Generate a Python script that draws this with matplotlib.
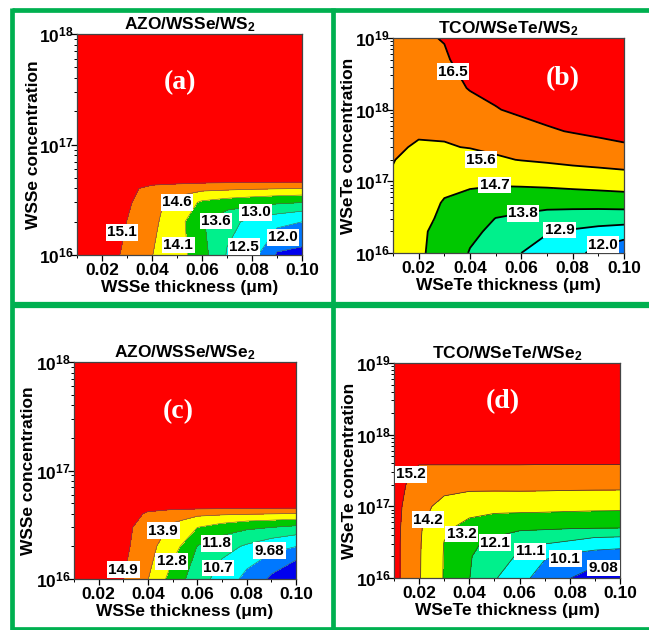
import matplotlib

matplotlib.use("Agg")
import matplotlib.pyplot as plt
import numpy as np
from matplotlib.lines import Line2D
from matplotlib.ticker import (FixedFormatter, FixedLocator, FormatStrFormatter,
                               LogLocator, MultipleLocator, NullFormatter)

plt.rcParams["font.family"] = ["Liberation Sans", "DejaVu Sans"]
plt.rcParams["font.weight"] = "bold"
plt.rcParams["axes.labelweight"] = "bold"
plt.rcParams["axes.titleweight"] = "bold"
plt.rcParams["mathtext.fontset"] = "custom"
plt.rcParams["mathtext.rm"] = "Liberation Sans:bold"
plt.rcParams["mathtext.bf"] = "Liberation Sans:bold"
plt.rcParams["mathtext.it"] = "Liberation Sans:bold"

# ---- data (PCE %, rows = doping concentration, columns = thickness) ----
thickness = [0.01, 0.02, 0.03, 0.04, 0.05, 0.06, 0.07, 0.08, 0.09, 0.10]

conc_wsse = [1e16, 2e16, 3e16, 4e16, 5e16, 1e17, 1e18]
conc_wsete = [1e16, 2e16, 3e16, 5e16, 1e17, 2e17, 3e17, 5e17, 1e18, 2e18, 5e18, 1e19]

pce_a = [
    [15.9, 15.5, 14.95, 14.6, 14.3, 13.75, 13.0, 12.7, 11.95, 11.88],
    [16.0, 15.8, 15.1, 14.7, 14.3, 13.6, 13.2, 12.9, 12.7, 12.52],
    [16.0, 15.9, 15.2, 14.75, 14.4, 14.0, 13.85, 13.75, 13.65, 13.57],
    [16.0, 16.0, 15.25, 14.95, 14.85, 14.75, 14.7, 14.65, 14.62, 14.6],
    [16.0, 16.0, 15.9, 15.5, 15.5, 15.5, 15.5, 15.5, 15.5, 15.5],
    [16.0, 16.0, 16.0, 16.0, 16.0, 16.0, 16.0, 16.0, 16.0, 16.0],
    [16.1, 16.1, 16.1, 16.1, 16.1, 16.1, 16.1, 16.1, 16.1, 16.1],
]

pce_b = [
    [15.1, 14.85, 14.30, 13.76, 13.33, 12.9, 12.55, 12.2, 11.8, 11.37],
    [15.2, 14.87, 14.39, 13.99, 13.61, 13.38, 12.98, 12.82, 12.67, 12.55],
    [15.3, 14.96, 14.53, 14.2, 13.78, 13.65, 13.46, 13.37, 13.30, 13.27],
    [15.4, 15.0, 14.65, 14.47, 14.24, 14.16, 14.13, 14.16, 14.2, 14.27],
    [15.55, 15.15, 14.95, 14.88, 14.88, 14.95, 15.03, 15.13, 15.21, 15.27],
    [15.62, 15.4, 15.33, 15.36, 15.5, 15.63, 15.73, 15.84, 15.91, 16.0],
    [15.7, 15.53, 15.55, 15.63, 15.77, 15.9, 16.03, 16.15, 16.26, 16.38],
    [15.95, 15.7, 15.72, 15.88, 16.06, 16.23, 16.40, 16.55, 16.70, 16.87],
    [16.05, 15.85, 15.91, 16.22, 16.45, 16.68, 16.9, 16.95, 17.05, 17.2],
    [16.15, 15.98, 16.11, 16.56, 16.84, 16.95, 17.15, 17.2, 17.3, 17.4],
    [16.25, 16.15, 16.37, 16.95, 17.1, 17.2, 17.35, 17.4, 17.5, 17.55],
    [16.35, 16.3, 16.57, 17.1, 17.2, 17.3, 17.45, 17.5, 17.6, 17.65],
]

pce_c = [
    [16.0, 15.6, 14.95, 13.9, 12.4, 11.2, 10.3, 9.4, 8.45, 7.58],
    [16.0, 15.7, 15.2, 14.2, 13.3, 11.75, 11.1, 10.6, 10.1, 9.7],
    [16.0, 15.9, 15.2, 14.5, 13.7, 12.85, 12.4, 12.0, 11.8, 11.55],
    [16.0, 16.0, 15.8, 14.7, 14.3, 14.15, 14.05, 13.98, 13.92, 13.85],
    [16.0, 16.0, 16.0, 16.0, 16.0, 16.0, 16.0, 16.0, 16.0, 16.0],
    [16.0, 16.0, 16.0, 16.0, 16.0, 16.0, 16.0, 16.0, 16.0, 16.0],
    [16.1, 16.1, 16.1, 16.1, 16.1, 16.1, 16.1, 16.1, 16.1, 16.1],
]

pce_d = [
    [15.5, 14.25, 13.1, 12.16, 11.2, 10.5, 9.55, 9.1, 8.6, 8.2],
    [15.5, 14.26, 13.11, 12.2, 11.66, 10.97, 10.25, 9.89, 9.71, 9.59],
    [15.5, 14.27, 13.13, 12.3, 11.92, 11.42, 11.13, 10.92, 10.58, 10.5],
    [15.52, 14.3, 13.32, 12.86, 12.49, 12.34, 12.3, 12.22, 12.18, 12.15],
    [15.55, 14.45, 13.92, 13.66, 13.62, 13.64, 13.61, 13.57, 13.53, 13.51],
    [15.6, 14.75, 14.57, 14.5, 14.5, 14.5, 14.5, 14.48, 14.48, 14.48],
    [15.65, 14.97, 14.97, 14.97, 14.97, 14.97, 14.95, 14.95, 14.95, 14.95],
    [15.75, 15.55, 15.55, 15.55, 15.55, 15.55, 15.55, 15.55, 15.55, 15.55],
    [15.9, 15.9, 15.9, 15.9, 15.9, 15.9, 15.9, 15.9, 15.9, 15.9],
    [16.1, 16.1, 16.1, 16.1, 16.1, 16.1, 16.1, 16.1, 16.1, 16.1],
    [16.25, 16.25, 16.25, 16.25, 16.25, 16.25, 16.25, 16.25, 16.25, 16.25],
    [16.35, 16.35, 16.35, 16.35, 16.35, 16.35, 16.35, 16.35, 16.35, 16.35],
]

levels_a = [12.0, 12.518, 13.036, 13.554, 14.072, 14.59, 15.108]
levels_b = [12.0, 12.9, 13.8, 14.7, 15.6, 16.5]
levels_c = [8.63, 9.68, 10.73, 11.78, 12.83, 13.88, 14.93]
levels_d = [9.08, 10.1, 11.12, 12.14, 13.16, 14.18, 15.2]

# Origin-like rainbow fill colours, low -> high
rainbow = ["#0000EE", "#0078FF", "#00FFFF", "#00F08C",
           "#00C800", "#FFFF00", "#FF8000", "#FF0000"]

# contour label anchors: (level index, thickness, concentration)
labels_a = [(6, 0.028, 1.6e16), (5, 0.050, 3.0e16), (4, 0.0505, 1.23e16),
            (3, 0.0656, 2.03e16), (2, 0.0815, 2.43e16), (1, 0.0769, 1.19e16),
            (0, 0.0925, 1.45e16)]
labels_b = [(5, 0.0334, 3.4e18), (4, 0.0444, 2.0e17), (3, 0.0496, 8.9e16),
            (2, 0.0607, 3.6e16), (1, 0.0749, 2.1e16), (0, 0.0918, 1.3e16)]
labels_c = [(6, 0.030, 1.22e16), (5, 0.0462, 2.78e16), (4, 0.0496, 1.45e16),
            (3, 0.0678, 2.14e16), (2, 0.0685, 1.26e16), (1, 0.0892, 1.82e16)]
labels_d = [(6, 0.0167, 2.8e17), (5, 0.0236, 6.5e16), (4, 0.0369, 4.1e16),
            (3, 0.0502, 3.1e16), (2, 0.0642, 2.35e16), (1, 0.0782, 1.86e16),
            (0, 0.0935, 1.38e16)]

W, H = 649, 630


def rect(left, top, right, bottom):
    return [left / W, 1 - bottom / H, (right - left) / W, (bottom - top) / H]


def level_text(v):
    return f"{v:.2f}" if v < 10 else f"{v:.1f}"


def draw_panel(fig, box, conc, pce, levels, colors, labels, title, layer,
               letter, letter_xy, top_dec, line_w, line_c, ylabel_x):
    ax = fig.add_axes(box)
    X, Y = np.meshgrid(thickness, conc)
    Z = np.array(pce)
    bounds = [Z.min() - 1] + levels + [Z.max() + 1]
    ax.contourf(X, Y, Z, levels=bounds, colors=colors)
    ax.contour(X, Y, Z, levels=levels, colors=line_c, linewidths=line_w)
    ax.set_yscale("log")
    ax.set_xlim(0.01, 0.10)
    ax.set_ylim(1e16, 10.0 ** top_dec)

    decs = list(range(16, top_dec + 1))
    ax.yaxis.set_major_locator(FixedLocator([10.0 ** d for d in decs]))
    ax.yaxis.set_major_formatter(FixedFormatter([rf"$\mathbf{{10^{{{d}}}}}$" for d in decs]))
    ax.yaxis.set_minor_locator(LogLocator(base=10, subs=np.arange(2, 10)))
    ax.yaxis.set_minor_formatter(NullFormatter())
    ax.xaxis.set_major_locator(MultipleLocator(0.02))
    ax.xaxis.set_minor_locator(MultipleLocator(0.01))
    ax.xaxis.set_major_formatter(FormatStrFormatter("%.2f"))
    ax.tick_params(which="major", direction="out", length=4, width=0.9,
                   labelsize=12.5, pad=2)
    ax.tick_params(axis="y", which="major", pad=-1.5)
    ax.tick_params(which="minor", direction="out", length=2.5, width=0.7)
    for t in ax.get_xticklabels() + ax.get_yticklabels():
        t.set_fontweight("bold")
    for sp in ax.spines.values():
        sp.set_color("#444444")
        sp.set_linewidth(0.9)

    for idx, x, y in labels:
        ax.text(x, y, level_text(levels[idx]), ha="center", va="center",
                fontsize=11, fontweight="bold", zorder=5,
                bbox=dict(facecolor="white", edgecolor="none", pad=1.0))

    ax.set_title(title, fontsize=12.5, fontweight="bold", pad=2)
    ax.set_xlabel(f"{layer} thickness (\u03bcm)", fontsize=12.5, labelpad=1)
    ax.set_ylabel(f"{layer} concentration", fontsize=12.5)
    ax.yaxis.set_label_coords(ylabel_x, 0.5)
    ax.text(letter_xy[0], letter_xy[1], letter, transform=ax.transAxes,
            color="white", fontsize=20, fontweight="bold",
            family=["Liberation Serif", "DejaVu Serif"], ha="center", va="center")
    return ax


fig = plt.figure(figsize=(W / 100, H / 100), dpi=100)

draw_panel(fig, rect(77, 34, 302, 255), conc_wsse, pce_a, levels_a, rainbow,
           labels_a, "AZO/WSSe/WS$_2$", "WSSe", "(a)", (0.458, 0.78), 18,
           0.4, "#555555", -0.16)
draw_panel(fig, rect(393, 38, 624, 253), conc_wsete, pce_b, levels_b, rainbow[1:],
           labels_b, "TCO/WSeTe/WS$_2$", "WSeTe", "(b)", (0.736, 0.81), 19,
           1.3, "black", -0.16)
draw_panel(fig, rect(74, 362, 296, 579), conc_wsse, pce_c, levels_c, rainbow,
           labels_c, "AZO/WSSe/WSe$_2$", "WSSe", "(c)", (0.468, 0.77), 18,
           0.4, "#555555", -0.171)
draw_panel(fig, rect(394, 363, 620, 578), conc_wsete, pce_d, levels_d, rainbow,
           labels_d, "TCO/WSeTe/WSe$_2$", "WSeTe", "(d)", (0.48, 0.82), 19,
           0.5, "#333333", -0.164)

# green panel frame
green = "#00B050"
frame = [((12, 10), (649, 10), 3.4), ((12, 305), (649, 305), 4.5),
         ((12, 629), (649, 629), 3.4), ((12, 8), (12, 630), 3.4),
         ((332.5, 8), (332.5, 630), 3.4)]
for (x0, y0), (x1, y1), lw in frame:
    fig.add_artist(Line2D([x0 / W, x1 / W], [1 - y0 / H, 1 - y1 / H],
                          transform=fig.transFigure, color=green, lw=lw,
                          solid_capstyle="butt"))

fig.savefig("out.png", dpi=100)
plt.close(fig)
